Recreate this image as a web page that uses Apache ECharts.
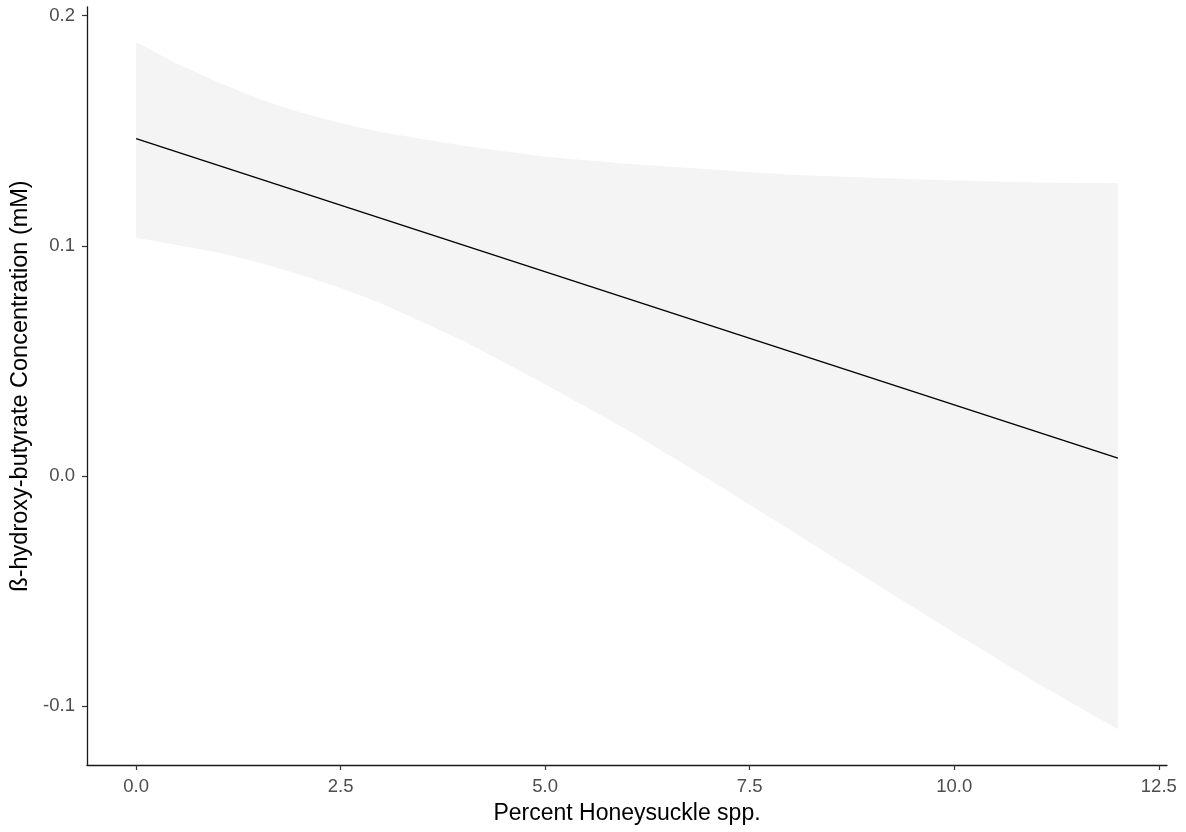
<!DOCTYPE html>
<html>
<head>
<meta charset="utf-8">
<title>ß-hydroxy-butyrate vs Percent Honeysuckle spp.</title>
<script src="https://cdn.jsdelivr.net/npm/echarts@6/dist/echarts.min.js"></script>
<style>
  html, body { margin: 0; padding: 0; background: #ffffff; }
  #chart { width: 1186px; height: 832px; }
</style>
</head>
<body>
<div id="chart"></div>
<script>
// Percent honeysuckle cover at which the confidence band was evaluated
const bandX = [0, 0.5, 1, 1.5, 2, 2.5, 3, 4, 5, 6, 7, 8, 9, 10, 11, 12];
// Upper and lower 95% confidence limits of the fitted line (mM)
const bandUpper = [0.1884, 0.1790, 0.1710, 0.1638, 0.1580, 0.1533, 0.1493, 0.1434, 0.1387, 0.1356, 0.1332, 0.1308, 0.1295, 0.1283, 0.1275, 0.1272];
const bandLower = [0.1035, 0.1003, 0.0971, 0.0927, 0.0875, 0.0817, 0.0749, 0.0588, 0.0399, 0.0201, -0.0014, -0.0236, -0.0459, -0.0681, -0.0897, -0.1100];
// Linear fit, end points
const fitX = [0, 12];
const fitY = [0.1465, 0.0078];
// Axis ticks
const xTicks = [0, 2.5, 5, 7.5, 10, 12.5];
const yTicks = [-0.1, 0, 0.1, 0.2];

const fitData = fitX.map((x, i) => [x, fitY[i]]);
// Band as one record per x: [x, lower, upper]
const bandData = bandX.map((x, i) => [x, bandLower[i], bandUpper[i]]);

const fontFamily = 'Liberation Sans, Arial, sans-serif';
const tickLabelStyle = { color: '#4d4d4d', fontFamily: fontFamily, fontSize: 18.5 };

// Draws the whole ribbon as one polygon: upper edge left to right, lower edge back
function renderBand(params, api) {
  if (params.dataIndex !== 0) return null;
  const upperPts = bandData.map(d => api.coord([d[0], d[2]]));
  const lowerPts = bandData.map(d => api.coord([d[0], d[1]])).reverse();
  return {
    type: 'polygon',
    shape: { points: upperPts.concat(lowerPts) },
    style: { fill: '#f4f4f4', stroke: null },
    silent: true
  };
}

const chart = echarts.init(document.getElementById('chart'), null, { renderer: 'canvas' });
chart.setOption({
  animation: false,
  backgroundColor: '#ffffff',
  grid: { left: 87, right: 19, top: 7, bottom: 67, containLabel: false },
  xAxis: {
    type: 'value',
    min: -0.6,
    max: 12.6,
    name: 'Percent Honeysuckle spp.',
    nameLocation: 'middle',
    nameGap: 37,
    nameTextStyle: { color: '#000000', fontFamily: fontFamily, fontSize: 23 },
    axisLine: { show: true, onZero: false, lineStyle: { color: '#1a1a1a', width: 1.3 } },
    axisTick: { show: true, length: 5, customValues: xTicks, lineStyle: { color: '#333333', width: 1.2 } },
    axisLabel: { ...tickLabelStyle, margin: 12, customValues: xTicks, formatter: v => v.toFixed(1) },
    splitLine: { show: false }
  },
  yAxis: {
    type: 'value',
    min: -0.1255,
    max: 0.2037,
    name: 'ß-hydroxy-butyrate Concentration (mM)',
    nameLocation: 'middle',
    nameGap: 52,
    nameRotate: 90,
    nameTextStyle: { color: '#000000', fontFamily: fontFamily, fontSize: 23.5 },
    axisLine: { show: true, onZero: false, lineStyle: { color: '#1a1a1a', width: 1.3 } },
    axisTick: { show: true, length: 5, customValues: yTicks, lineStyle: { color: '#333333', width: 1.2 } },
    axisLabel: { ...tickLabelStyle, margin: 12, customValues: yTicks, formatter: v => v.toFixed(1) },
    splitLine: { show: false }
  },
  series: [
    {
      name: 'band',
      type: 'custom',
      renderItem: renderBand,
      data: bandData,
      encode: { x: 0, y: [1, 2] },
      silent: true,
      z: 1
    },
    {
      name: 'fit',
      type: 'line',
      data: fitData,
      symbol: 'none',
      silent: true,
      lineStyle: { color: '#000000', width: 1.4 },
      z: 3
    }
  ]
});
</script>
</body>
</html>
